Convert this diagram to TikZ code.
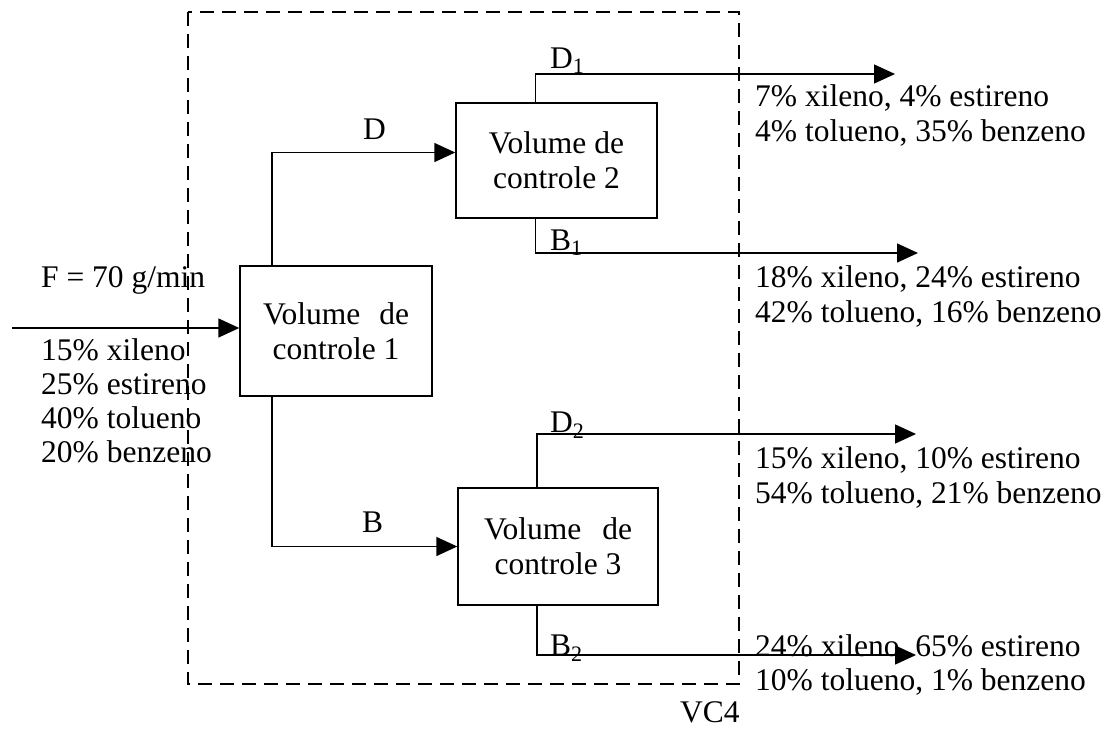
\documentclass[tikz,border=0pt]{standalone}
\usepackage{fontspec}
\setmainfont{Liberation Serif}
\usetikzlibrary{arrows.meta,positioning}

\begin{document}
\begin{tikzpicture}[x=1pt, y=-1pt,
    every node/.style={font=\fontsize{31.5}{35}\selectfont},
    volume/.style={rectangle, draw, line width=1.4pt, align=center, inner sep=0pt},
    flow/.style={line width=1.4pt, -{Triangle[length=21pt, width=19pt]}},
    lbl/.style={inner sep=0pt, anchor=base west},
    comp/.style={inner sep=0pt, anchor=base west, align=left}
]
\useasboundingbox (0,0) rectangle (1112,729);

% Control volume VC4
\draw[line width=1.4pt, dash pattern=on 14pt off 8pt] (188,12) rectangle (739,684);
\node[lbl] (vc4) at (680,722) {VC4};

% Units
\node[volume, minimum width=192pt, minimum height=130pt] (vc1) at (336,331) {\makebox[146pt][s]{Volume de}\\controle 1};
\node[volume, minimum width=201pt, minimum height=115pt] (vc2) at (556.5,160.5) {Volume de\\controle 2};
\node[volume, minimum width=200pt, minimum height=117pt] (vc3) at (558,546.5) {\makebox[148pt][s]{Volume de}\\controle 3};

% Feed
\coordinate (feed) at (12,328);
\draw[flow] (feed) -- (vc1.west |- feed);
\node[lbl] (fval) at (41,287) {F = 70 g/min};
\node[comp, font=\fontsize{31.5}{34}\selectfont] (fcomp) at (41,462) {15\% xileno\\25\% estireno\\40\% tolueno\\20\% benzeno};

% Internal streams
\draw[flow] ([xshift=-64pt]vc1.north) |- ([yshift=8pt]vc2.west);
\draw[flow] ([xshift=-64pt]vc1.south) |- (vc3.west);
\node[lbl] (dlbl) at (363,139) {D};
\node[lbl] (blbl) at (362,532) {B};

% Products
\coordinate (d1end) at (895,74);
\coordinate (b1end) at (918,253);
\coordinate (d2end) at (916,434);
\coordinate (b2end) at (916,655);
\draw[flow] ([xshift=-21pt]vc2.north) |- (d1end);
\draw[flow] ([xshift=-21pt]vc2.south) |- (b1end);
\draw[flow] ([xshift=-21pt]vc3.north) |- (d2end);
\draw[flow] ([xshift=-21pt]vc3.south) |- (b2end);
\node[lbl] (d1lbl) at (550,68) {D\textsubscript{1}};
\node[lbl] (b1lbl) at (550,250) {B\textsubscript{1}};
\node[lbl] (d2lbl) at (550,432) {D\textsubscript{2}};
\node[lbl] (b2lbl) at (550,655) {B\textsubscript{2}};

\node[comp] (d1comp) at (755,141) {7\% xileno, 4\% estireno\\4\% tolueno, 35\% benzeno};
\node[comp] (b1comp) at (755,322) {18\% xileno, 24\% estireno\\42\% tolueno, 16\% benzeno};
\node[comp] (d2comp) at (755,503) {15\% xileno, 10\% estireno\\54\% tolueno, 21\% benzeno};
\node[comp, font=\fontsize{31.5}{34}\selectfont] (b2comp) at (755,690) {24\% xileno, 65\% estireno\\10\% tolueno, 1\% benzeno};
\end{tikzpicture}
\end{document}
